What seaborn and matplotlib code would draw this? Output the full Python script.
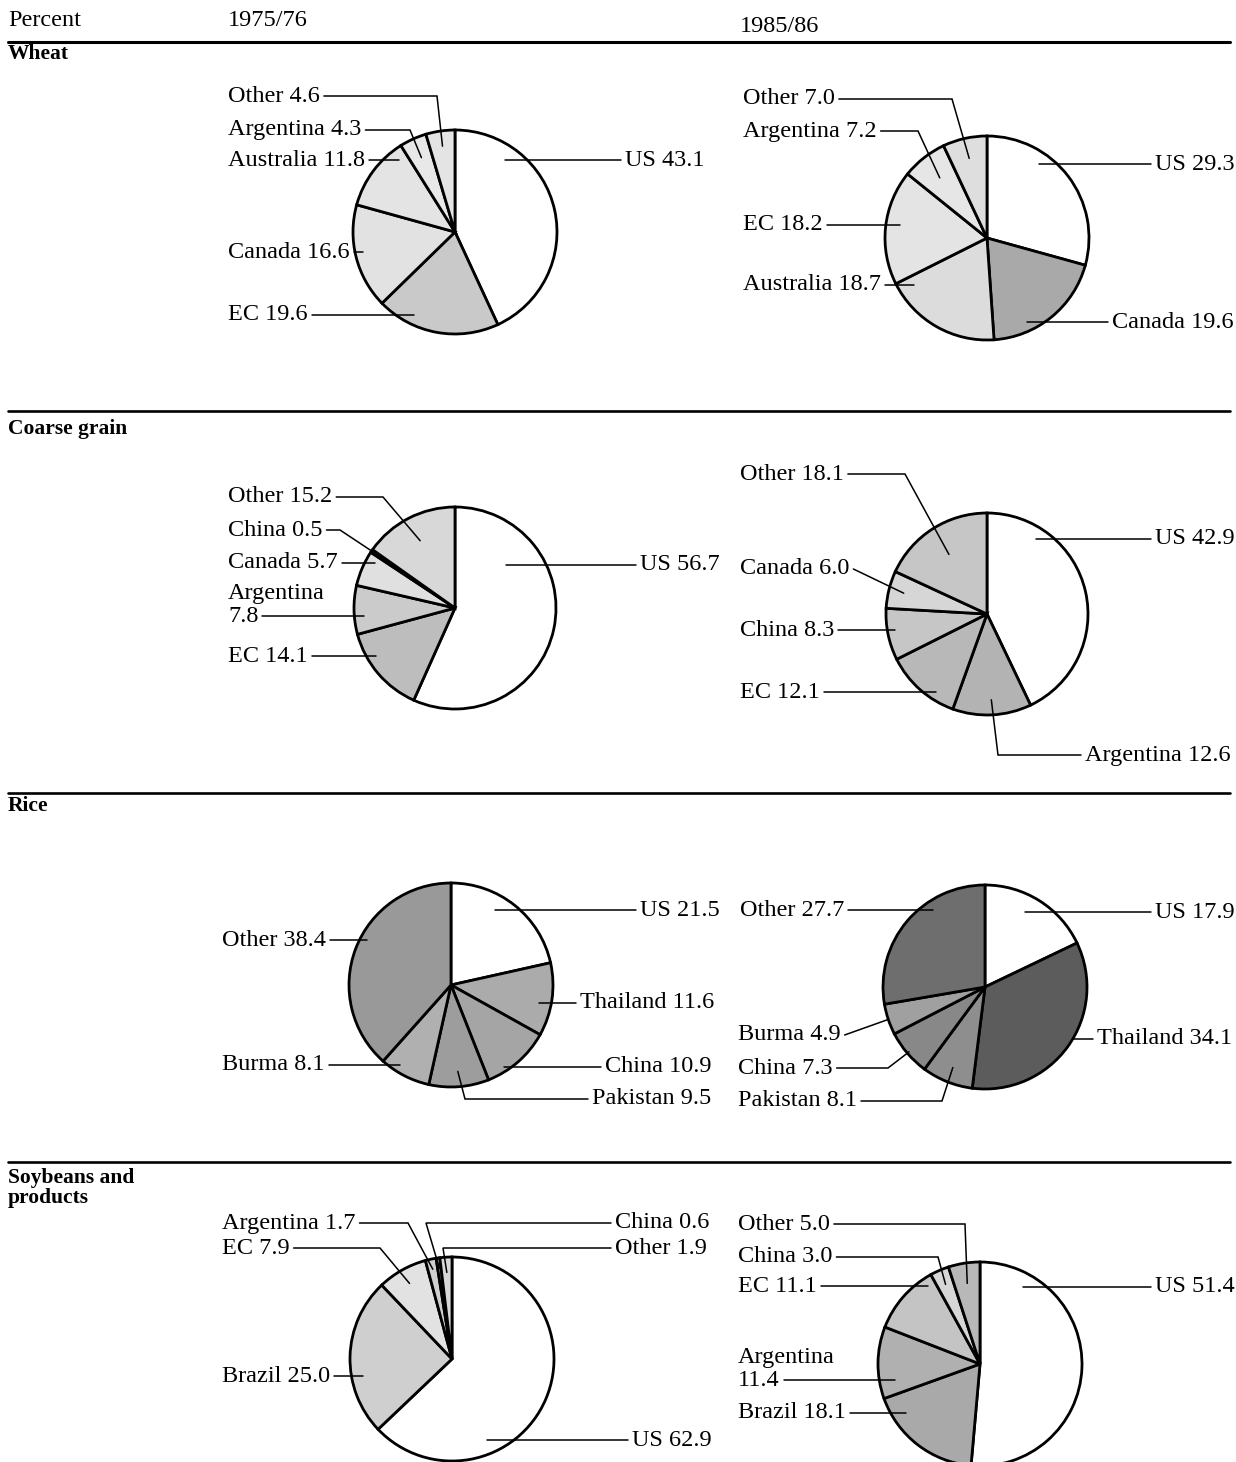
import numpy as np
import matplotlib
matplotlib.use('Agg')
import matplotlib.pyplot as plt
import seaborn as sns

# world export shares, percent (1975/76 vs 1985/86), clockwise from 12 o'clock
wheat_names_76 = ['US', 'EC', 'Canada', 'Australia', 'Argentina', 'Other']
wheat_vals_76 = [43.1, 19.6, 16.6, 11.8, 4.3, 4.6]
wheat_names_86 = ['US', 'Canada', 'Australia', 'EC', 'Argentina', 'Other']
wheat_vals_86 = [29.3, 19.6, 18.7, 18.2, 7.2, 7.0]

coarse_names_76 = ['US', 'EC', 'Argentina', 'Canada', 'China', 'Other']
coarse_vals_76 = [56.7, 14.1, 7.8, 5.7, 0.5, 15.2]
coarse_names_86 = ['US', 'Argentina', 'EC', 'China', 'Canada', 'Other']
coarse_vals_86 = [42.9, 12.6, 12.1, 8.3, 6.0, 18.1]

rice_names_76 = ['US', 'Thailand', 'China', 'Pakistan', 'Burma', 'Other']
rice_vals_76 = [21.5, 11.6, 10.9, 9.5, 8.1, 38.4]
rice_names_86 = ['US', 'Thailand', 'Pakistan', 'China', 'Burma', 'Other']
rice_vals_86 = [17.9, 34.1, 8.1, 7.3, 4.9, 27.7]

soy_names_76 = ['US', 'Brazil', 'EC', 'Argentina', 'China', 'Other']
soy_vals_76 = [62.9, 25.0, 7.9, 1.7, 0.6, 1.9]
soy_names_86 = ['US', 'Brazil', 'Argentina', 'EC', 'China', 'Other']
soy_vals_86 = [51.4, 18.1, 11.4, 11.1, 3.0, 5.0]

years = ['1975/76', '1985/86']
commodities = ['Wheat', 'Coarse grain', 'Rice', 'Soybeans and\nproducts']

# ---- styling / layout (pixel coords, y downward) ----
sns.set_theme(style='white')
plt.rcParams['font.family'] = ['Liberation Serif', 'DejaVu Serif']
plt.rcParams['text.color'] = 'black'
FS = 17.5
W, H = 1236, 1462

# shade per slice (stippled greys in the original)
shades = {
    'wheat76': ['white', '#c9c9c9', '#e2e2e2', '#e4e4e4', '#e8e8e8', '#e4e4e4'],
    'wheat86': ['white', '#a9a9a9', '#dcdcdc', '#e4e4e4', '#e6e6e6', '#dedede'],
    'coarse76': ['white', '#bdbdbd', '#cbcbcb', '#e0e0e0', '#303030', '#d8d8d8'],
    'coarse86': ['white', '#b3b3b3', '#b8b8b8', '#c6c6c6', '#d6d6d6', '#c6c6c6'],
    'rice76': ['white', '#ababab', '#a5a5a5', '#9d9d9d', '#b0b0b0', '#999999'],
    'rice86': ['white', '#5c5c5c', '#8e8e8e', '#888888', '#a0a0a0', '#6e6e6e'],
    'soy76': ['white', '#cfcfcf', '#e2e2e2', '#d0d0d0', '#9a9a9a', '#d8d8d8'],
    'soy86': ['white', '#a9a9a9', '#b0b0b0', '#c4c4c4', '#d6d6d6', '#b8b8b8'],
}

# label placement: name -> (side, text x, text y, knee x, mode, amount)
#   mode 'h': horizontal leader ending `amount` px inside the rim
#   mode 'w': leader to wedge mid-angle at `amount` * radius
pies = [
    dict(key='wheat76', names=wheat_names_76, vals=wheat_vals_76, c=(455, 232), r=102,
         lab={'US': ('R', 625, 160, None, 'h', 22),
              'EC': ('L', 228, 315, None, 'h', 18),
              'Canada': ('L', 228, 252, None, 'h', 8),
              'Australia': ('L', 228, 160, None, 'h', 16),
              'Argentina': ('L', 228, 130, 410, 'w', 0.8),
              'Other': ('L', 228, 96, 437, 'w', 0.85)}),
    dict(key='wheat86', names=wheat_names_86, vals=wheat_vals_86, c=(987, 238), r=102,
         lab={'US': ('R', 1155, 164, None, 'h', 18),
              'Canada': ('R', 1112, 322, None, 'h', 18),
              'Australia': ('L', 743, 285, None, 'h', 18),
              'EC': ('L', 743, 225, None, 'h', 14),
              'Argentina': ('L', 743, 131, 918, 'w', 0.75),
              'Other': ('L', 743, 99, 952, 'w', 0.8)}),
    dict(key='coarse76', names=coarse_names_76, vals=coarse_vals_76, c=(455, 608), r=101,
         lab={'US': ('R', 640, 565, None, 'h', 40),
              'EC': ('L', 228, 656, None, 'h', 10),
              'Argentina': ('L', 228, 616, None, 'h', 10, True),
              'Canada': ('L', 228, 563, None, 'h', 10),
              'China': ('L', 228, 530, 340, 'w', 0.98),
              'Other': ('L', 228, 497, 383, 'w', 0.75)}),
    dict(key='coarse86', names=coarse_names_86, vals=coarse_vals_86, c=(987, 614), r=101,
         lab={'US': ('R', 1155, 539, None, 'h', 19),
              'Argentina': ('R', 1085, 755, 998, 'w', 0.85),
              'EC': ('L', 740, 692, None, 'h', 13),
              'China': ('L', 740, 630, None, 'h', 8),
              'Canada': ('L', 740, 569, None, 'w', 0.85),
              'Other': ('L', 740, 474, 905, 'w', 0.7)}),
    dict(key='rice76', names=rice_names_76, vals=rice_vals_76, c=(451, 985), r=102,
         lab={'US': ('R', 640, 910, None, 'h', 25),
              'Thailand': ('R', 580, 1003, None, 'h', 12),
              'China': ('R', 605, 1067, None, 'h', 8),
              'Pakistan': ('R', 592, 1099, 465, 'w', 0.85),
              'Burma': ('L', 222, 1065, None, 'h', 12),
              'Other': ('L', 222, 940, None, 'h', 8)}),
    dict(key='rice86', names=rice_names_86, vals=rice_vals_86, c=(985, 987), r=102,
         lab={'US': ('R', 1155, 912, None, 'h', 29),
              'Thailand': ('R', 1097, 1039, None, 'h', 0),
              'Pakistan': ('L', 738, 1101, 942, 'w', 0.85),
              'China': ('L', 738, 1068, 888, 'w', 0.98),
              'Burma': ('L', 738, 1035, None, 'w', 1.0),
              'Other': ('L', 740, 910, None, 'h', 15)}),
    dict(key='soy76', names=soy_names_76, vals=soy_vals_76, c=(452, 1359), r=102,
         lab={'US': ('R', 632, 1440, None, 'h', 27),
              'Brazil': ('L', 222, 1376, None, 'h', 12),
              'EC': ('L', 222, 1248, 380, 'w', 0.85),
              'Argentina': ('L', 222, 1223, 408, 'w', 0.9),
              'China': ('R', 615, 1223, 426, 'w', 0.9),
              'Other': ('R', 615, 1248, 443, 'w', 0.85)}),
    dict(key='soy86', names=soy_names_86, vals=soy_vals_86, c=(980, 1364), r=102,
         lab={'US': ('R', 1155, 1287, None, 'h', 24),
              'Brazil': ('L', 738, 1413, None, 'h', 15),
              'Argentina': ('L', 738, 1380, None, 'h', 16, True),
              'EC': ('L', 738, 1286, None, 'h', 14),
              'China': ('L', 738, 1257, 938, 'w', 0.85),
              'Other': ('L', 738, 1224, 965, 'w', 0.8)}),
]

fig = plt.figure(figsize=(W / 100, H / 100), dpi=100)
ax = fig.add_axes([0, 0, 1, 1])

wedge_sets = []
for p in pies:
    wedges, _ = ax.pie(p['vals'], colors=shades[p['key']], startangle=270, counterclock=True,
                       center=p['c'], radius=p['r'], normalize=True,
                       wedgeprops=dict(edgecolor='black', linewidth=2.0))
    wedge_sets.append(wedges)

ax.set_xlim(0, W)
ax.set_ylim(H, 0)
ax.set_aspect('equal')
ax.axis('off')

# header + section rules
ax.text(8, 20, 'Percent', fontsize=FS, va='center')
ax.text(228, 20, years[0], fontsize=FS, va='center')
ax.text(740, 26, years[1], fontsize=FS, va='center')
ax.plot([8, 1230], [42, 42], color='black', lw=2.2)
rule_y = [None, 411, 793, 1162]
title_y = [54, 429, 806, 1188]
for t, ry, ty in zip(commodities, rule_y, title_y):
    if ry is not None:
        ax.plot([8, 1230], [ry, ry], color='black', lw=1.9)
    ax.text(8, ty, t, fontsize=15.5, fontweight='bold', va='center', linespacing=0.95)

renderer = fig.canvas.get_renderer()
inv = ax.transData.inverted()

for p, wedges in zip(pies, wedge_sets):
    cx, cy = p['c']
    r = p['r']
    for name, val, w in zip(p['names'], p['vals'], wedges):
        spec = p['lab'][name]
        side, tx, ty, knee, mode, amt = spec[:6]
        split = len(spec) > 6 and spec[6]
        if split:
            ax.text(tx, ty - 22, name, fontsize=FS, va='center')
            s = f'{val:.1f}'
        else:
            s = f'{name} {val:.1f}'
        t = ax.text(tx, ty, s, fontsize=FS, va='center', ha='left')
        bb = t.get_window_extent(renderer=renderer)
        x0 = inv.transform((bb.x0, bb.y0))[0]
        x1 = inv.transform((bb.x1, bb.y0))[0]
        start = (x1 + 4, ty) if side == 'L' else (x0 - 4, ty)

        if mode == 'h':
            dx = np.sqrt(max(r ** 2 - (ty - cy) ** 2, 0))
            ex = cx - dx + amt if side == 'L' else cx + dx - amt
            end = (ex, ty)
        else:
            th = np.deg2rad((w.theta1 + w.theta2) / 2)
            end = (cx + amt * r * np.cos(th), cy + amt * r * np.sin(th))

        xs, ys = [start[0]], [start[1]]
        if knee is not None:
            xs.append(knee)
            ys.append(ty)
        xs.append(end[0])
        ys.append(end[1])
        ax.plot(xs, ys, color='black', lw=1.1, solid_joinstyle='miter')

fig.savefig('out.png', dpi=100)
